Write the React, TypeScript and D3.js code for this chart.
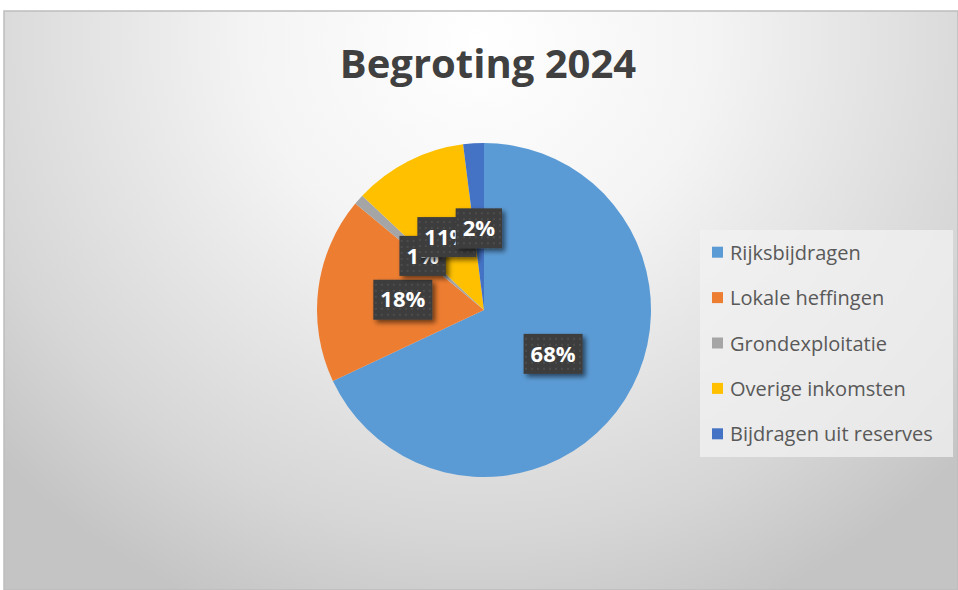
import React, { useEffect, useRef } from "react";
import * as d3 from "d3";

// begroting pie

const categories = ["Rijksbijdragen", "Lokale heffingen", "Grondexploitatie", "Overige inkomsten", "Bijdragen uit reserves"];
const values = [68, 18, 1, 11, 2];
const colors = ["#5B9BD5", "#ED7D31", "#A5A5A5", "#FFC000", "#4472C4"];
const title = "Begroting 2024";

const W = 958;
const H = 590;

function App() {
  const svgRef = useRef<SVGSVGElement>(null);

  useEffect(() => {
    const svg = d3.select(svgRef.current);
    svg.selectAll("*").remove();

    const defs = svg.append("defs");
    const bg = defs.append("radialGradient").attr("id", "bg")
      .attr("gradientUnits", "userSpaceOnUse")
      .attr("cx", 480).attr("cy", 40).attr("r", 620)
      .attr("gradientTransform", "translate(480,40) scale(1.05,1) translate(-480,-40)");
    bg.append("stop").attr("offset", "0").attr("stop-color", "#ffffff");
    bg.append("stop").attr("offset", "0.35").attr("stop-color", "#f4f4f4");
    bg.append("stop").attr("offset", "0.8").attr("stop-color", "#d6d6d6");
    bg.append("stop").attr("offset", "1").attr("stop-color", "#c4c4c4");

    const dots = defs.append("pattern").attr("id", "dots")
      .attr("patternUnits", "userSpaceOnUse").attr("width", 6).attr("height", 6);
    dots.append("rect").attr("width", 6).attr("height", 6).attr("fill", "#3c3c3c");
    dots.append("circle").attr("cx", 3).attr("cy", 3).attr("r", 0.9).attr("fill", "#555");

    const sh = defs.append("filter").attr("id", "shadow")
      .attr("x", "-30%").attr("y", "-30%").attr("width", "170%").attr("height", "170%");
    sh.append("feDropShadow").attr("dx", 3).attr("dy", 3).attr("stdDeviation", 2.5)
      .attr("flood-color", "#000").attr("flood-opacity", 0.55);

    // chart area
    svg.append("rect").attr("width", W).attr("height", H).attr("fill", "#fff");
    svg.append("rect").attr("x", 4).attr("y", 11).attr("width", W - 4).attr("height", H - 11)
      .attr("fill", "url(#bg)").attr("stroke", "#bdbdbd").attr("stroke-width", 1.5);

    svg.append("text").attr("x", 488).attr("y", 78)
      .attr("text-anchor", "middle")
      .attr("font-family", "'Open Sans', sans-serif")
      .attr("font-weight", 700).attr("font-size", 40)
      .attr("fill", "#404040").text(title);

    const cx = 484, cy = 310, r = 167;
    const pie = d3.pie<number>().sort(null).value(d => d);
    const arcs = pie(values);
    const arc = d3.arc<d3.PieArcDatum<number>>().innerRadius(0).outerRadius(r);
    const labelArc = d3.arc<d3.PieArcDatum<number>>().innerRadius(r * 0.49).outerRadius(r * 0.49);

    const g = svg.append("g").attr("transform", `translate(${cx},${cy})`);
    g.selectAll("path.slice").data(arcs).enter().append("path")
      .attr("class", "slice")
      .attr("d", arc)
      .attr("fill", (d, i) => colors[i]);

    const total = d3.sum(values);
    const fmt = d3.format(".0%");
    arcs.forEach((a, i) => {
      const [lx, ly] = labelArc.centroid(a);
      const txt = fmt(values[i] / total);
      const lg = g.append("g").attr("transform", `translate(${lx},${ly})`);
      const t = lg.append("text")
        .attr("text-anchor", "middle").attr("dy", "0.35em")
        .attr("font-family", "'Open Sans', sans-serif")
        .attr("font-weight", 700).attr("font-size", 22)
        .attr("fill", "#fff").text(txt);
      const bw = (t.node() as SVGTextElement).getComputedTextLength() + 14;
      const bh = 40;
      lg.insert("rect", "text")
        .attr("x", -bw / 2).attr("y", -bh / 2)
        .attr("width", bw).attr("height", bh)
        .attr("fill", "url(#dots)")
        .attr("filter", "url(#shadow)");
    });

    // legend
    const legend = svg.append("g").attr("transform", "translate(700,230)");
    legend.append("rect").attr("width", 253).attr("height", 227)
      .attr("fill", "#f2f2f2").attr("opacity", 0.75);
    const y = d3.scaleBand<string>().domain(categories).range([0, 227]).paddingOuter(0.0);
    categories.forEach((c, i) => {
      const yy = (y(c) ?? 0) + y.bandwidth() / 2;
      legend.append("rect").attr("x", 12).attr("y", yy - 6).attr("width", 11).attr("height", 11)
        .attr("fill", colors[i]);
      legend.append("text").attr("x", 30).attr("y", yy).attr("dy", "0.35em")
        .attr("font-family", "'Open Sans', sans-serif").attr("font-size", 20)
        .attr("fill", "#595959").text(c);
    });
  }, []);

  return (
    <svg ref={svgRef} width={W} height={H}
      style={{ position: "absolute", left: 0, top: 0, display: "block" }} />
  );
}

export default App;
